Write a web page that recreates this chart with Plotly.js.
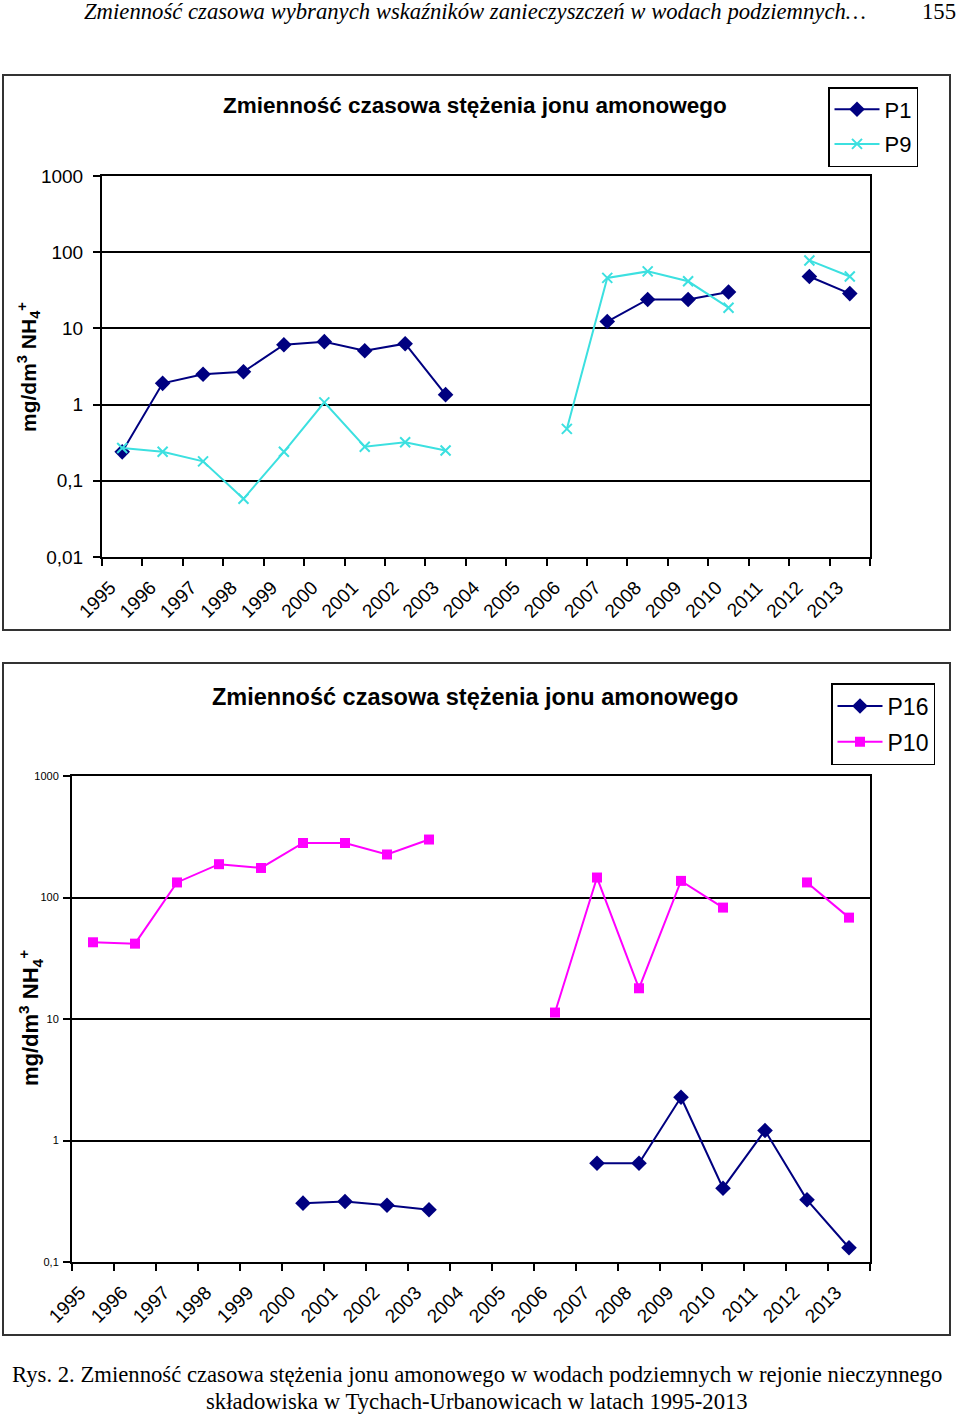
<!DOCTYPE html>
<html>
<head>
<meta charset="utf-8">
<script src="https://cdn.plot.ly/plotly-3.0.1.min.js"></script>
<style>
  html, body { margin: 0; padding: 0; background: #fff; }
  #graph { width: 960px; height: 1416px; }
</style>
</head>
<body>
<div id="graph"></div>
<script>
// categories
const years = ['1995', '1996', '1997', '1998', '1999', '2000', '2001', '2002', '2003', '2004',
  '2005', '2006', '2007', '2008', '2009', '2010', '2011', '2012', '2013'];

// chart 1 (mg/dm3 NH4+)
const p1 = [0.24, 1.9, 2.5, 2.7, 6.1, 6.7, 5.1, 6.3, 1.35, null,
  null, null, 12.3, 24, 24, 30, null, 48, 28.6];
const p9 = [0.27, 0.24, 0.18, 0.058, 0.24, 1.07, 0.28, 0.32, 0.25, null,
  null, 0.48, 46, 56, 41.5, 18.7, null, 78, 48];

// chart 2
const p16 = [null, null, null, null, null, 0.305, 0.315, 0.293, 0.269, null,
  null, null, 0.65, 0.65, 2.27, 0.405, 1.21, 0.325, 0.131];
const p10 = [42.8, 41.7, 133, 188, 175, 281, 281, 226, 300, null,
  null, 11.3, 146, 17.9, 137, 82.6, null, 133, 68.3];

const tickVals1 = [0.01, 0.1, 1, 10, 100, 1000];
const tickText1 = ['0,01', '0,1', '1', '10', '100', '1000'];
const tickVals2 = [0.1, 1, 10, 100, 1000];
const tickText2 = ['0,1', '1', '10', '100', '1000'];

const W = 960, H = 1416;
const px = x => x / W;
const py = y => 1 - y / H;

const navy = '#000080';
const cyan = '#3CE0E0';
const magenta = '#FF00FF';
const sans = 'Liberation Sans, Arial, sans-serif';
const serif = 'Liberation Serif, Times New Roman, serif';

const traces = [
  { x: years, y: p1, name: 'P1', type: 'scatter', mode: 'lines+markers', xaxis: 'x', yaxis: 'y',
    line: { color: navy, width: 2 }, marker: { symbol: 'diamond', size: 12, color: navy },
    legend: 'legend', legendgroup: 'a' },
  { x: years, y: p9, name: 'P9', type: 'scatter', mode: 'lines+markers', xaxis: 'x', yaxis: 'y',
    line: { color: cyan, width: 2 }, marker: { symbol: 'x-thin-open', size: 10, color: cyan, line: { width: 2, color: cyan } },
    legend: 'legend', legendgroup: 'b' },
  { x: years, y: p16, name: 'P16', type: 'scatter', mode: 'lines+markers', xaxis: 'x2', yaxis: 'y2',
    line: { color: navy, width: 2 }, marker: { symbol: 'diamond', size: 12, color: navy },
    legend: 'legend2', legendgroup: 'c' },
  { x: years, y: p10, name: 'P10', type: 'scatter', mode: 'lines+markers', xaxis: 'x2', yaxis: 'y2',
    line: { color: magenta, width: 2 }, marker: { symbol: 'square', size: 10, color: magenta },
    legend: 'legend2', legendgroup: 'd' }
];

function xAxis(domain, anchor, shift, standoff) {
  return {
    domain: domain, anchor: anchor, type: 'category', range: [-0.5, 18.5],
    tickson: 'boundaries', ticks: 'outside', ticklen: 7, tickwidth: 2, tickcolor: '#000',
    showline: true, linecolor: '#000', linewidth: 2, mirror: true, showgrid: false,
    tickangle: -45, ticklabelshift: shift, ticklabelstandoff: standoff,
    tickfont: { family: sans, size: 19, color: '#000' }
  };
}

function yAxis(domain, anchor, range, vals, text, fsize, standoff) {
  return {
    domain: domain, anchor: anchor, type: 'log', range: range,
    tickvals: vals, ticktext: text, ticks: 'outside', ticklen: 7, tickwidth: 2, tickcolor: '#000',
    showline: true, linecolor: '#000', linewidth: 2, mirror: true,
    showgrid: true, gridcolor: '#000', gridwidth: 2, zeroline: false,
    ticklabelstandoff: standoff,
    tickfont: { family: sans, size: fsize, color: '#000' }
  };
}

const yTitle = 'mg/dm<sup>3</sup> NH<sub>4</sub><sup>+</sup>';
const chartTitle = 'Zmienność czasowa stężenia jonu amonowego';

function note(text, x, y, font, extra) {
  return Object.assign({ text: text, x: px(x), y: py(y), xref: 'paper', yref: 'paper',
    xanchor: 'center', yanchor: 'middle', showarrow: false, font: font }, extra || {});
}

const layout = {
  width: W, height: H,
  margin: { l: 0, r: 0, t: 0, b: 0 },
  paper_bgcolor: '#fff', plot_bgcolor: '#fff',
  font: { family: sans, color: '#000' },
  xaxis: xAxis([px(102), px(870)], 'y', -12, 10),
  yaxis: yAxis([py(557), py(176)], 'x', [-2, 3], tickVals1, tickText1, 19, 6),
  xaxis2: xAxis([px(72), px(870)], 'y2', -13, 10),
  yaxis2: yAxis([py(1262), py(776)], 'x2', [-1, 3], tickVals2, tickText2, 11, 2),
  legend: {
    x: px(828), y: py(87), xanchor: 'left', yanchor: 'top',
    bordercolor: '#000', borderwidth: 1.5, bgcolor: '#fff', itemwidth: 45,
    font: { family: sans, size: 22, color: '#000' },
    traceorder: 'grouped', tracegroupgap: 3
  },
  legend2: {
    x: px(831), y: py(683), xanchor: 'left', yanchor: 'top',
    bordercolor: '#000', borderwidth: 1.5, bgcolor: '#fff', itemwidth: 45,
    font: { family: sans, size: 23, color: '#000' },
    traceorder: 'grouped', tracegroupgap: 3
  },
  shapes: [
    { type: 'rect', xref: 'paper', yref: 'paper', x0: px(3), x1: px(950), y0: py(630), y1: py(75),
      line: { color: '#333', width: 2 } },
    { type: 'rect', xref: 'paper', yref: 'paper', x0: px(3), x1: px(950), y0: py(1335), y1: py(663),
      line: { color: '#333', width: 2 } }
  ],
  annotations: [
    note('<i>Zmienność czasowa wybranych wskaźników zanieczyszczeń w wodach podziemnych…</i>', 475, 12,
      { family: serif, size: 22.7, color: '#000' }),
    note('155', 958, 12, { family: serif, size: 22.7, color: '#000' }, { xanchor: 'right' }),
    note('<b>' + chartTitle + '</b>', 475, 105, { family: sans, size: 22.5, color: '#000' }),
    note('<b>' + chartTitle + '</b>', 475, 697, { family: sans, size: 23.5, color: '#000' }),
    note('<b>' + yTitle + '</b>', 28, 367, { family: sans, size: 21, color: '#000' }, { textangle: -90 }),
    note('<b>' + yTitle + '</b>', 30, 1018, { family: sans, size: 22, color: '#000' }, { textangle: -90 }),
    note('Rys. 2. Zmienność czasowa stężenia jonu amonowego w wodach podziemnych w rejonie nieczynnego', 477, 1374,
      { family: serif, size: 22.7, color: '#000' }),
    note('składowiska w Tychach-Urbanowicach w latach 1995-2013', 477, 1401,
      { family: serif, size: 22.7, color: '#000' })
  ]
};

Plotly.newPlot('graph', traces, layout, { staticPlot: true, displayModeBar: false });
</script>
</body>
</html>
